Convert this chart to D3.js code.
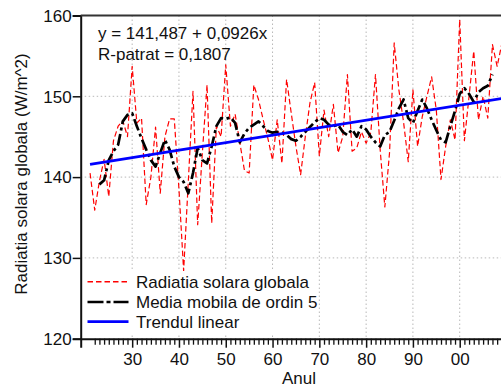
<!DOCTYPE html>
<html>
<head>
<meta charset="utf-8">
<script src="https://cdn.jsdelivr.net/npm/d3@7"></script>
<style>
  html, body { margin: 0; padding: 0; background: #fff; overflow: hidden; }
  svg { display: block; }
  text { font-family: "Liberation Sans", Arial, Helvetica, sans-serif; }
</style>
</head>
<body>
<svg id="chart" width="501" height="388"></svg>
<script>
// Annual global solar radiation (W/m^2), 1921-2009
const years = d3.range(1921, 2010);
const radiation = [
  140.5, 135.9, 139.5, 142.2, 137.6, 144.5, 146.3, 147.0, 145.0, 153.7,
  146.7, 147.3, 136.6, 140.0, 146.2, 138.0, 145.0, 147.2, 147.2, 138.5,
  128.4, 139.5, 150.6, 134.1, 143.0, 151.4, 134.3, 146.3, 145.0, 153.9,
  146.3, 147.8, 144.3, 140.8, 140.5, 151.4, 149.6, 147.1, 144.8, 142.1,
  147.1, 141.7, 152.1, 147.9, 143.8, 140.3, 145.0, 149.2, 151.7, 142.6,
  148.3, 145.0, 149.0, 143.0, 145.0, 152.7, 143.2, 143.6, 145.6, 144.2,
  145.5, 152.7, 143.4, 136.3, 143.0, 156.6, 150.8, 146.8, 141.9, 150.8,
  143.8, 147.5, 150.0, 152.4, 148.3, 139.7, 143.8, 147.1, 144.6, 159.5,
  144.5, 150.0, 155.6, 147.1, 150.0, 147.3, 156.4, 153.7, 156.5
];

// Centred 5-year moving average, 1923-2007
const maYears = d3.range(1923, 2008);
const movingAvg = [
  139.1, 139.6, 142.1, 143.2, 144.0, 146.9, 147.7, 147.9, 146.3, 144.8,
  143.4, 142.1, 141.3, 143.0, 144.6, 143.4, 141.3, 140.0, 139.4, 138.0,
  140.5, 143.6, 142.1, 141.7, 143.8, 146.3, 147.3, 147.2, 147.4, 146.7,
  144.3, 145.4, 146.1, 146.5, 146.9, 146.3, 145.7, 145.5, 145.6, 145.5,
  145.2, 144.7, 144.5, 145.0, 145.6, 146.2, 146.8, 147.3, 147.1, 146.5,
  146.3, 146.5, 145.6, 145.2, 145.9, 145.0, 146.3, 145.9, 145.0, 144.3,
  143.8, 145.2, 145.6, 147.0, 148.5, 149.6, 147.3, 146.7, 148.2, 149.6,
  148.5, 147.1, 145.8, 144.6, 144.3, 146.3, 148.2, 150.3, 151.0, 150.3,
  149.3, 150.5, 151.0, 151.3, 152.7
];

// Linear trend: y = a + b*x, x = 1 for the first year
const trendIntercept = 141.487;
const trendSlope = 0.0926;

const yTicks = [120, 130, 140, 150, 160];
const xMajorTicks = [1930, 1940, 1950, 1960, 1970, 1980, 1990, 2000];
const xMinorTicks = d3.range(1922, 2011).filter(v => v % 10 !== 0);
const xTickLabels = ["30", "40", "50", "60", "70", "80", "90", "00"];
const legendLabels = ["Radiatia solara globala", "Media mobila de ordin 5", "Trendul linear"];
const equationLines = ["y = 141,487 + 0,0926x", "R-patrat = 0,1807"];

const svg = d3.select("#chart");
const W = 501, H = 388;
const plotLeft = 80.7, plotRight = 506.5, plotTop = 15.5, plotBottom = 338.7;

svg.append("rect").attr("width", W).attr("height", H).attr("fill", "#fff");

const x = d3.scaleLinear().domain([1919, 2010]).range([plotLeft, plotRight]);
const y = d3.scaleLinear().domain([120, 160]).range([plotBottom, plotTop]);

// Dotted grid
const grid = svg.append("g").attr("stroke", "#b8b8b8").attr("stroke-width", 1)
  .attr("stroke-dasharray", "1.5,2.5");
grid.selectAll("line.h").data(yTicks.filter(v => v > 120 && v < 160)).join("line")
  .attr("class", "h")
  .attr("x1", plotLeft).attr("x2", plotRight)
  .attr("y1", d => y(d)).attr("y2", d => y(d));
grid.selectAll("line.v").data(xMajorTicks).join("line")
  .attr("class", "v")
  .attr("x1", d => x(d)).attr("x2", d => x(d))
  .attr("y1", plotTop).attr("y2", plotBottom);

svg.append("clipPath").attr("id", "plotClip").append("rect")
  .attr("x", plotLeft).attr("y", plotTop)
  .attr("width", plotRight - plotLeft).attr("height", plotBottom - plotTop);

const plot = svg.append("g").attr("clip-path", "url(#plotClip)");

const line = d3.line().x(d => x(d[0])).y(d => y(d[1]));

const redData = years.map((yr, i) => [yr, radiation[i]]);
const maData = maYears.map((yr, i) => [yr, movingAvg[i]]);
const trendData = [years[0], years[years.length - 1]]
  .map(yr => [yr, trendIntercept + trendSlope * (yr - years[0] + 1)]);

const styles = [
  { color: "#ff0000", width: 1.2, dash: "5.5,3" },
  { color: "#000000", width: 2.7, dash: "12,3.5,3,3.5" },
  { color: "#0000ff", width: 2.8, dash: null }
];

[redData, maData, trendData].forEach((data, i) => {
  plot.append("path").datum(data)
    .attr("d", line)
    .attr("fill", "none")
    .attr("stroke", styles[i].color)
    .attr("stroke-width", styles[i].width)
    .attr("stroke-dasharray", styles[i].dash)
    .attr("stroke-linejoin", "round");
});

// Legend
const legend = svg.append("g");
legend.append("rect").attr("x", 84).attr("y", 271).attr("width", 234).attr("height", 62).attr("fill", "#fff");
const legendY = [281.7, 302, 321.7];
legendLabels.forEach((lab, i) => {
  legend.append("line")
    .attr("x1", 87.5).attr("x2", 128.5)
    .attr("y1", legendY[i]).attr("y2", legendY[i])
    .attr("stroke", styles[i].color)
    .attr("stroke-width", i === 0 ? 1.4 : styles[i].width)
    .attr("stroke-dasharray", i === 1 ? "16,3,4,3" : styles[i].dash);
  legend.append("text")
    .attr("x", 136).attr("y", legendY[i])
    .attr("dy", "0.36em")
    .attr("font-size", 17).attr("fill", "#111")
    .text(lab);
});

// Regression annotation
equationLines.forEach((t, i) => {
  svg.append("text").attr("x", 98).attr("y", 38.5 + i * 21.5)
    .attr("font-size", 17).attr("fill", "#111").text(t);
});

// Axes
const yAxis = d3.axisLeft(y).tickValues(yTicks).tickSize(8).tickPadding(1).tickFormat(d3.format("d"));
const gy = svg.append("g").attr("transform", `translate(${plotLeft},0)`).call(yAxis);
gy.select(".domain").attr("stroke", "#111").attr("stroke-width", 2);
gy.selectAll(".tick line").attr("stroke", "#111").attr("stroke-width", 1.5);
gy.selectAll(".tick text").attr("font-size", 17).attr("fill", "#111")
  .attr("font-family", "'Liberation Sans', Arial, sans-serif").attr("dy", "0.34em");

const xAxisMinor = d3.axisBottom(x).tickValues(xMinorTicks).tickSize(6).tickFormat("");
const gxm = svg.append("g").attr("transform", `translate(0,${plotBottom})`).call(xAxisMinor);
gxm.select(".domain").remove();
gxm.selectAll(".tick line").attr("stroke", "#111").attr("stroke-width", 1.3);

const xAxis = d3.axisBottom(x).tickValues(xMajorTicks).tickSize(9).tickPadding(5)
  .tickFormat((d, i) => xTickLabels[i]);
const gx = svg.append("g").attr("transform", `translate(0,${plotBottom})`).call(xAxis);
gx.select(".domain").attr("stroke", "#111").attr("stroke-width", 2);
gx.selectAll(".tick line").attr("stroke", "#111").attr("stroke-width", 1.5);
gx.selectAll(".tick text").attr("font-size", 17).attr("fill", "#111")
  .attr("font-family", "'Liberation Sans', Arial, sans-serif");

// Top frame
svg.append("line").attr("x1", plotLeft).attr("x2", plotRight).attr("y1", plotTop).attr("y2", plotTop)
  .attr("stroke", "#333").attr("stroke-width", 2);

// Axis titles
svg.append("text").attr("x", 299).attr("y", 384).attr("text-anchor", "middle")
  .attr("font-size", 17).attr("fill", "#111").text("Anul");
svg.append("text")
  .attr("transform", "translate(26.5,174) rotate(-90)")
  .attr("text-anchor", "middle").attr("font-size", 17).attr("fill", "#111")
  .text("Radiatia solara globala (W/m^2)");
</script>
</body>
</html>
